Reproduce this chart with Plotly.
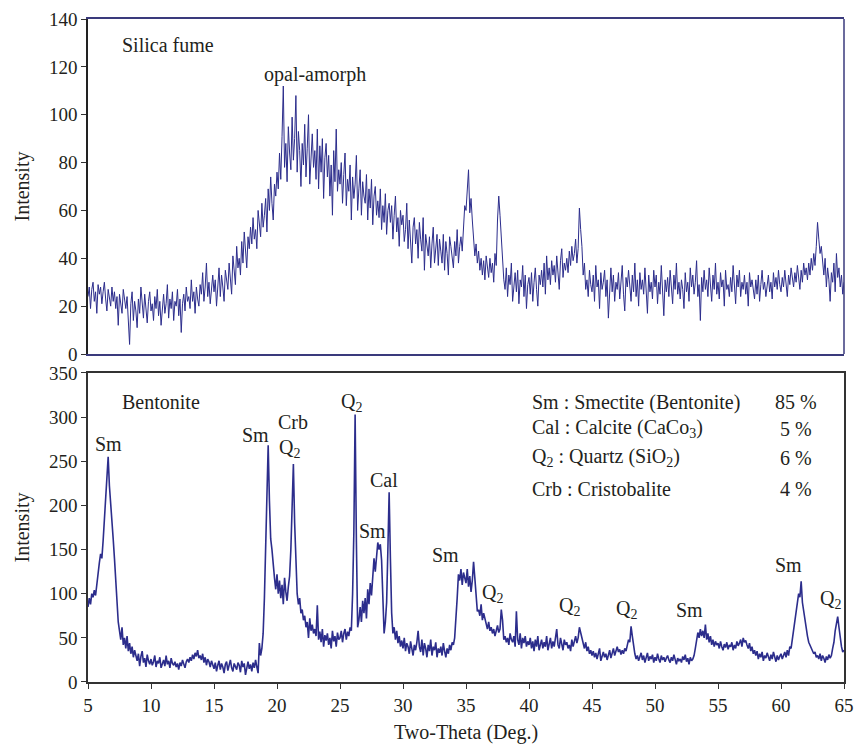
import numpy as np
import plotly.graph_objects as go

# Two-theta grid shared by both diffractograms (5.0 .. 65.0 deg, step 0.1)
two_theta = np.round(np.arange(50, 651) * 0.1, 1)

# Silica fume intensities, one row per degree (x.0 .. x.9)
silica_fume = [
    24, 28, 19, 27, 30, 22, 26, 17, 29, 25,
    28, 21, 26, 30, 23, 18, 27, 24, 20, 28,
    22, 26, 19, 24, 12, 25, 21, 17, 27, 23,
    19, 24, 16, 4, 21, 26, 14, 22, 18, 11,
    23, 17, 28, 20, 15, 25, 19, 13, 22, 26,
    18, 21, 14, 24, 19, 27, 16, 22, 12, 20,
    25, 17, 21, 29, 15, 23, 19, 26, 14, 22,
    20, 27, 16, 23, 9, 21, 25, 18, 28, 22,
    24, 19, 31, 22, 26, 17, 28, 23, 20, 29,
    25, 34, 22, 28, 38, 24, 30, 21, 27, 33,
    26, 31, 20, 29, 36, 24, 33, 28, 22, 35,
    30, 27, 38, 32, 25, 41, 34, 29, 45, 36,
    40, 33, 47, 38, 51, 42, 36, 49, 44, 53,
    46, 57, 48, 52, 44, 60, 55, 49, 63, 53,
    58, 65, 51, 69, 60, 74, 63, 56, 71, 66,
    76, 69, 84, 73, 91, 112, 78, 88, 72, 95,
    84, 77, 99, 81, 90, 108, 76, 93, 85, 70,
    88, 79, 96, 74, 86, 100, 71, 83, 92, 78,
    85, 73, 94, 69, 87, 76, 90, 65, 82, 88,
    74, 83, 66, 79, 58, 85, 72, 94, 68, 77,
    71, 80, 63, 75, 84, 62, 73, 68, 79, 56,
    74, 65, 71, 83, 60, 69, 77, 58, 72, 66,
    63, 75, 56, 69, 61, 73, 54, 66, 70, 58,
    64, 57, 69, 52, 62, 55, 67, 50, 60, 63,
    55, 62, 48, 58, 66, 51, 57, 45, 60, 54,
    58, 47, 52, 63, 44, 56, 49, 38, 53, 57,
    46, 52, 40, 55, 48, 43, 57, 35, 50, 45,
    41, 49, 36, 46, 53, 38, 44, 50, 37, 48,
    43, 38, 50, 35, 47, 42, 33, 49, 45, 40,
    36, 47, 41, 52, 38, 45, 49, 43, 56, 62,
    60, 68, 77, 59, 65, 56, 50, 41, 46, 38,
    43, 35, 40, 33, 39, 31, 41, 36, 32, 40,
    34, 38, 30, 42, 37, 56, 66, 58, 47, 40,
    31, 27, 36, 24, 33, 29, 38, 22, 30, 34,
    26, 35, 21, 31, 28, 37, 24, 33, 19, 29,
    32, 25, 34, 22, 30, 36, 27, 20, 33, 29,
    35, 28, 38, 25, 41, 31, 36, 29, 39, 33,
    37, 30, 41, 34, 27, 39, 44, 32, 38, 35,
    40, 34, 43, 37, 45, 39, 42, 48, 38, 44,
    61, 52, 45, 33, 38, 27, 31, 24, 35, 29,
    26, 33, 22, 37, 28, 31, 19, 34, 27, 30,
    35, 24, 31, 15, 29, 36, 26, 33, 22, 30,
    27, 34, 23, 30, 37, 25, 18, 32, 28, 35,
    29, 22, 33, 26, 38, 24, 31, 20, 34, 27,
    31, 25, 36, 28, 17, 33, 26, 30, 23, 35,
    28, 33, 21, 30, 25, 37, 27, 16, 31, 26,
    32, 24, 35, 29, 21, 33, 27, 38, 25, 30,
    23, 31, 27, 19, 34, 26, 30, 22, 36, 28,
    33, 25, 30, 39, 24, 29, 14, 32, 26, 35,
    27, 31, 24, 36, 29, 22, 33, 27, 38, 25,
    30, 23, 34, 28, 31, 20, 35, 27, 29, 24,
    32, 26, 37, 29, 21, 33, 28, 35, 24, 30,
    27, 33, 25, 30, 20, 34, 28, 31, 26, 23,
    31, 25, 33, 22, 29, 35, 27, 30, 24, 28,
    33, 26, 30, 23, 34, 28, 32, 27, 35, 29,
    26, 32, 28, 35, 30, 24, 33, 29, 36, 31,
    28, 34, 30, 37, 32, 27, 35, 30, 38, 33,
    36, 31, 38, 33, 40, 35, 42, 37, 45, 55,
    48, 42, 45, 38, 33, 40, 28, 36, 31, 22,
    34, 30, 38, 26, 42, 32, 36, 28, 33, 25,
    30,
]

# Bentonite intensities, one row per degree (x.0 .. x.9)
bentonite = [
    85, 95, 88, 100, 96, 104, 98, 112, 122, 135,
    145, 140, 160, 185, 215, 228, 255, 222, 205, 185,
    162, 140, 112, 92, 68, 58, 48, 62, 42, 50,
    38, 52, 35, 44, 32, 40, 28, 36, 30, 24,
    32, 18, 29, 35, 22, 27, 17, 31, 24, 20,
    26, 19, 23, 30, 17, 24, 21, 28, 16, 22,
    25, 18, 30, 20, 24, 16, 27, 21, 19, 23,
    17, 21, 14, 22, 18, 25, 20, 16, 23, 26,
    22, 28, 24, 31, 26, 33, 29, 36, 27, 30,
    25, 32, 22, 28, 19, 26, 23, 17, 24, 20,
    15, 22, 12, 19, 24, 14, 21, 17, 10, 20,
    23, 13, 19, 25, 16, 12, 21, 18, 14, 22,
    19, 11, 24, 17, 21, 8, 18, 23, 15, 20,
    12, 22, 16, 25, 17, 10, 44, 30, 38, 55,
    95, 160, 230, 268, 205, 162, 150, 128, 118, 105,
    122, 100, 115, 95, 110, 88, 118, 102, 92, 108,
    120, 150, 205, 247, 180, 128, 100, 88, 95, 78,
    82, 70, 75, 62, 68, 50, 72, 58, 65, 55,
    60, 52, 87, 48, 57, 45, 60, 40, 53, 47,
    55, 42, 50, 38, 58, 46, 52, 40, 56, 48,
    50, 58, 45, 55, 60, 48, 57, 52, 62, 58,
    100, 170, 303, 160, 62, 70, 85, 68, 92, 78,
    95, 72, 105, 88, 112, 98, 118, 140, 125, 145,
    158, 150, 156, 138, 105, 55, 68, 90, 150, 215,
    140, 78, 55, 62, 48, 58, 44, 52, 40, 47,
    38, 50, 35, 44, 40, 32, 46, 38, 30, 42,
    36, 45, 58, 40, 34, 48, 30, 44, 38, 28,
    42, 35, 48, 30, 40, 36, 45, 28, 38, 33,
    40, 30, 44, 35, 28, 38, 32, 42, 36, 45,
    42, 50, 70, 95, 122, 115, 128, 110, 124, 118,
    112, 128, 108, 120, 102, 115, 136, 118, 95, 80,
    82, 75, 88, 70, 78, 72, 65, 60, 68, 58,
    62, 55, 60, 52, 58, 64, 56, 60, 82, 70,
    48, 52, 45, 50, 42, 55, 48, 45, 52, 40,
    80, 48, 42, 55, 38, 50, 44, 52, 40, 46,
    42, 50, 38, 46, 35, 48, 40, 52, 36, 44,
    48, 38, 45, 40, 52, 36, 44, 50, 38, 46,
    40, 48, 60, 42, 38, 50, 44, 36, 48, 42,
    45, 38, 42, 35, 48, 40, 46, 52, 44, 50,
    62, 55, 48, 42, 38, 45, 35, 40, 32, 36,
    30, 35, 28, 33, 26, 32, 38, 24, 30, 34,
    28, 32, 25, 30, 36, 27, 33, 38, 30, 35,
    40, 34, 37, 31, 36, 32, 38, 35, 42, 48,
    45, 63, 52, 38, 32, 26, 30, 24, 28, 33,
    25, 30, 22, 28, 33, 24, 29, 26, 31, 22,
    28, 24, 32, 26, 22, 30, 25, 28, 23, 27,
    30, 25, 22, 28, 24, 31, 26, 20, 27, 24,
    26, 22, 29, 25, 31, 23, 27, 20, 28, 24,
    26, 30, 38, 48, 56, 50, 60, 52, 58, 50,
    65, 48, 55, 45, 52, 42, 48, 40, 46, 42,
    44, 38, 46, 40, 36, 43, 39, 45, 37, 42,
    40, 45, 36, 42, 38, 46, 41, 44, 48, 40,
    50, 45, 47, 42, 38, 44, 35, 40, 32, 36,
    30, 35, 26, 32, 28, 34, 24, 30, 27, 33,
    28, 24, 31, 26, 34, 27, 23, 30, 25, 29,
    32, 26, 30, 34, 28, 36, 30, 40, 38, 48,
    60, 66, 78, 92, 100, 96, 114, 90, 80, 70,
    58, 52, 45, 42, 38, 35, 32, 34, 28, 30,
    26, 32, 24, 30, 27, 22, 29, 25, 31, 27,
    30, 38, 45, 58, 68, 74, 62, 48, 40, 34,
    36,
]

# Phase labels on the bentonite pattern: (text, two-theta, intensity)
peak_labels = [
    ("Sm", 6.6, 270), ("Sm", 18.3, 280), ("Crb", 21.3, 294),
    ("Q<sub>2</sub>", 21.0, 265), ("Q<sub>2</sub>", 25.9, 317),
    ("Cal", 28.5, 229), ("Sm", 27.6, 171), ("Sm", 33.4, 144),
    ("Q<sub>2</sub>", 37.1, 100), ("Q<sub>2</sub>", 43.2, 85),
    ("Q<sub>2</sub>", 47.7, 82), ("Sm", 52.7, 82), ("Sm", 60.6, 132),
    ("Q<sub>2</sub>", 63.9, 94),
]

# Mineral composition key
phase_names = [
    "Sm : Smectite (Bentonite)",
    "Cal : Calcite (CaCo<sub>3</sub>)",
    "Q<sub>2</sub> : Quartz (SiO<sub>2</sub>)",
    "Crb : Cristobalite",
]
phase_shares = ["85 %", "5 %", "6 %", "4 %"]
key_rows_y = [317, 287, 254, 219]

LINE = "#2c2d8c"
FONT = "Liberation Serif, Times New Roman, serif"
TXT = "#231f20"
SIZE = 20

fig = go.Figure()
fig.add_trace(go.Scatter(x=two_theta, y=silica_fume, mode="lines",
                         line=dict(color=LINE, width=1), xaxis="x2", yaxis="y2",
                         showlegend=False))
fig.add_trace(go.Scatter(x=two_theta, y=bentonite, mode="lines",
                         line=dict(color=LINE, width=1.6), xaxis="x", yaxis="y",
                         showlegend=False))

ann = []
ann.append(dict(text="Silica fume", x=7.5, y=129, xref="x2", yref="y2",
                xanchor="left", showarrow=False))
ann.append(dict(text="opal-amorph", x=23.0, y=117, xref="x2", yref="y2",
                showarrow=False))
ann.append(dict(text="Bentonite", x=7.5, y=317, xref="x", yref="y",
                xanchor="left", showarrow=False))
for t, px, py in peak_labels:
    ann.append(dict(text=t, x=px, y=py, xref="x", yref="y", showarrow=False))
for name, share, ky in zip(phase_names, phase_shares, key_rows_y):
    ann.append(dict(text=name, x=40.1, y=ky, xref="x", yref="y",
                    xanchor="left", showarrow=False))
    ann.append(dict(text=share, x=61.2, y=ky, xref="x", yref="y",
                    xanchor="center", showarrow=False))

axis_font = dict(family=FONT, size=SIZE, color=TXT)
tick_font = dict(family=FONT, size=19, color=TXT)

fig.update_layout(
    width=855, height=749,
    margin=dict(l=88, r=11, t=19, b=67),
    paper_bgcolor="white", plot_bgcolor="white",
    font=dict(family=FONT, size=SIZE, color=TXT),
    annotations=ann,
    xaxis=dict(domain=[0, 1], anchor="y", range=[5, 65], automargin=False,
               tickmode="array", tickvals=list(range(5, 66, 5)),
               ticks="outside", ticklen=5, tickcolor="#333",
               showline=True, linecolor="#333", linewidth=1.5, mirror=True,
               showgrid=False, zeroline=False, tickfont=tick_font,
               title=dict(text="Two-Theta (Deg.)", font=axis_font, standoff=10)),
    yaxis=dict(domain=[0, 0.4661], anchor="x", range=[0, 350], automargin=False,
               tickmode="array", tickvals=list(range(0, 351, 50)),
               ticks="outside", ticklen=5, tickcolor="#333",
               showline=True, linecolor="#333", linewidth=1.5, mirror=True,
               showgrid=False, zeroline=False, tickfont=tick_font,
               title=dict(text="Intensity", font=axis_font, standoff=14)),
    xaxis2=dict(domain=[0, 1], anchor="y2", range=[5, 65], automargin=False,
                showticklabels=False, ticks="",
                showline=True, linecolor="#3a3a7c", linewidth=1.5, mirror=True,
                showgrid=False, zeroline=False),
    yaxis2=dict(domain=[0.4947, 1], anchor="x2", range=[0, 140], automargin=False,
                tickmode="array", tickvals=list(range(0, 141, 20)),
                ticks="outside", ticklen=5, tickcolor="#333",
                showline=True, linecolor="#222", linewidth=1.5,
                showgrid=False, zeroline=False, tickfont=tick_font,
                title=dict(text="Intensity", font=axis_font, standoff=14)),
    shapes=[dict(type="line", xref="x2 domain", yref="y2 domain",
                 x0=1, x1=1, y0=0, y1=1,
                 line=dict(color="#3a3a7c", width=1.5))],
)

fig.write_html("out.html")
